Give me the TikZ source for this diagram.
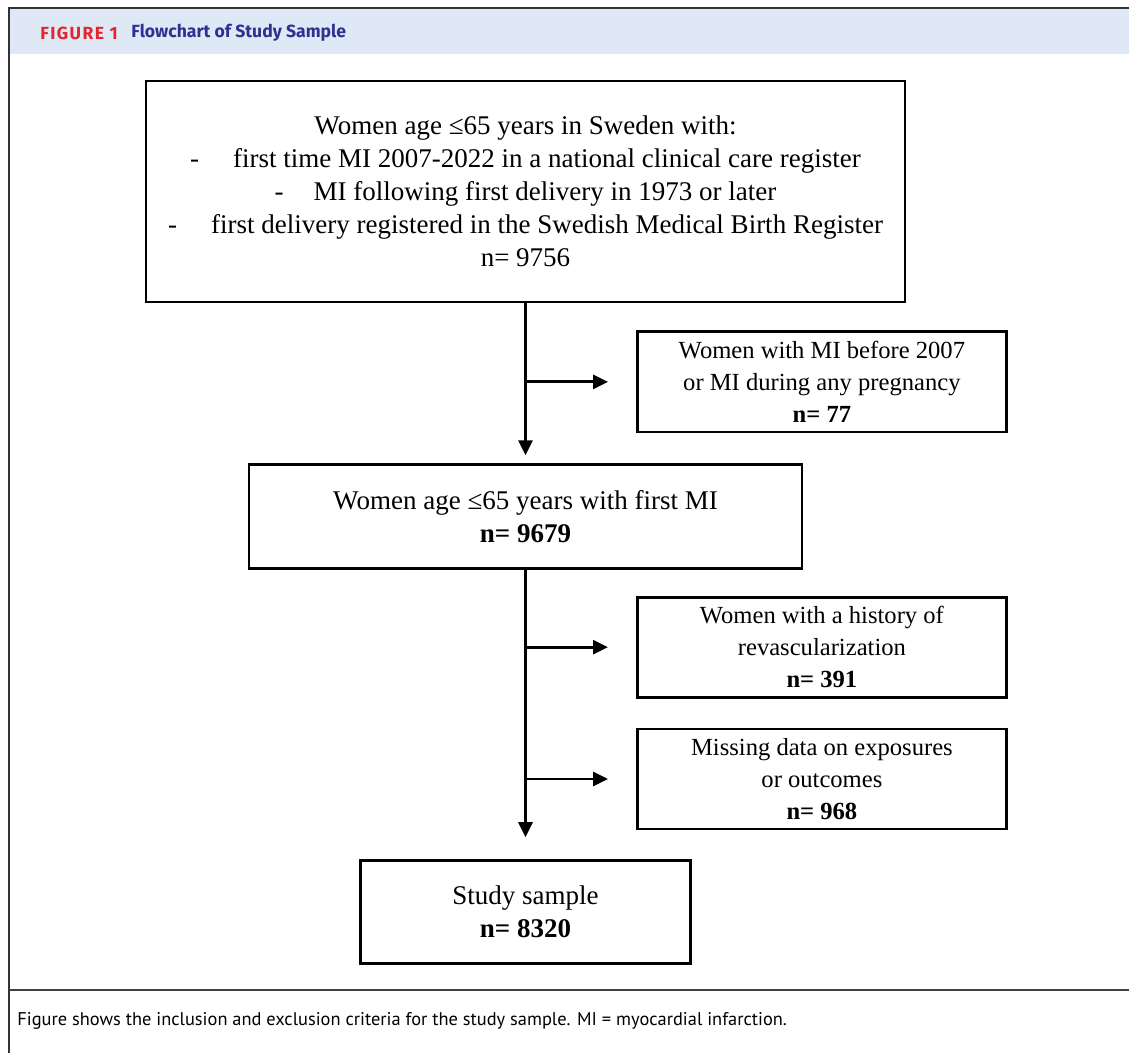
\documentclass[tikz,border=0pt]{standalone}
\usepackage{fontspec}
\setmainfont{Liberation Serif}
\newfontfamily\headfont{Fira Sans}
\newfontfamily\figfont[LetterSpace=8]{Fira Sans}
\newfontfamily\capfont{PT Sans}
\usetikzlibrary{positioning, arrows.meta}

\definecolor{headbg}{RGB}{222,233,245}
\definecolor{figred}{RGB}{228,36,48}
\definecolor{figblue}{RGB}{46,49,146}

\begin{document}
\begin{tikzpicture}[x=0.5pt,y=-0.5pt,node distance=80pt]
\tikzstyle{every node}=[inner sep=0pt]
\tikzstyle{box}=[draw, line width=1.4pt, align=center, font=\fontsize{13.5}{16.5}\selectfont]
\tikzstyle{exbox}=[box, minimum width=184.5pt, minimum height=50pt, font=\fontsize{12.3}{16}\selectfont]
\tikzstyle{arr}=[line width=1.4pt, -{Triangle[length=7.5pt,width=7pt]}]

% frame, header and caption
\useasboundingbox (0,0) rectangle (1129,1053);
\fill[headbg] (10,9) rectangle (1129,54);
\draw[line width=1pt, black!80] (1129,8) -- (9,8) -- (9,1053);
\draw[line width=0.8pt, black!75] (9,990) -- (1129,990);
\node[anchor=west] (fig) at (40,33) {\figfont\fontsize{8.8}{10}\selectfont\bfseries\color{figred}FIGURE 1};
\node[anchor=west] (title) at (131,33) {\headfont\fontsize{8.8}{10}\selectfont\bfseries\color{figblue}Flowchart of Study Sample};
\node[anchor=west] (cap) at (17,1021) {\capfont\fontsize{9.2}{11}\selectfont Figure shows the inclusion and exclusion criteria for the study sample. MI = myocardial infarction.};

% flowchart
\node[box, minimum width=379.5pt, minimum height=110.5pt] (all) at (525.5,191.5)
  {Women age ≤65 years in Sweden with:\\
   -\hspace{17pt}first time MI 2007-2022 in a national clinical care register\\
   -\hspace{15pt}MI following first delivery in 1973 or later\\
   -\hspace{17pt}first delivery registered in the Swedish Medical Birth Register\\
   n= 9756};
\node[box, minimum width=276.5pt, minimum height=52pt, below=of all] (first)
  {Women age ≤65 years with first MI\\ \textbf{n= 9679}};
\node[box, minimum width=165pt, minimum height=51.5pt, below=144.5pt of first] (sample)
  {Study sample\\ \textbf{n= 8320}};

\node[exbox, anchor=west] (prior) at ([xshift=55.25pt,yshift=-39.25pt]all.south)
  {Women with MI before 2007\\ or MI during any pregnancy\\ \textbf{n= 77}};
\node[exbox, anchor=west] (revasc) at ([xshift=55.25pt,yshift=-38.5pt]first.south)
  {Women with a history of\\ revascularization\\ \textbf{n= 391}};
\node[exbox, below=14.5pt of revasc] (missing)
  {Missing data on exposures\\ or outcomes\\ \textbf{n= 968}};

\draw[arr, shorten >=4pt] (all.south) -- (first.north);
\draw[arr, shorten >=14pt] (all.south |- prior.west) -- (prior.west);
\draw[arr, shorten >=11pt] (first.south) -- (sample.north);
\draw[arr, shorten >=14pt] (first.south |- revasc.west) -- (revasc.west);
\draw[arr, shorten >=14pt] (first.south |- missing.west) -- (missing.west);
\end{tikzpicture}
\end{document}
